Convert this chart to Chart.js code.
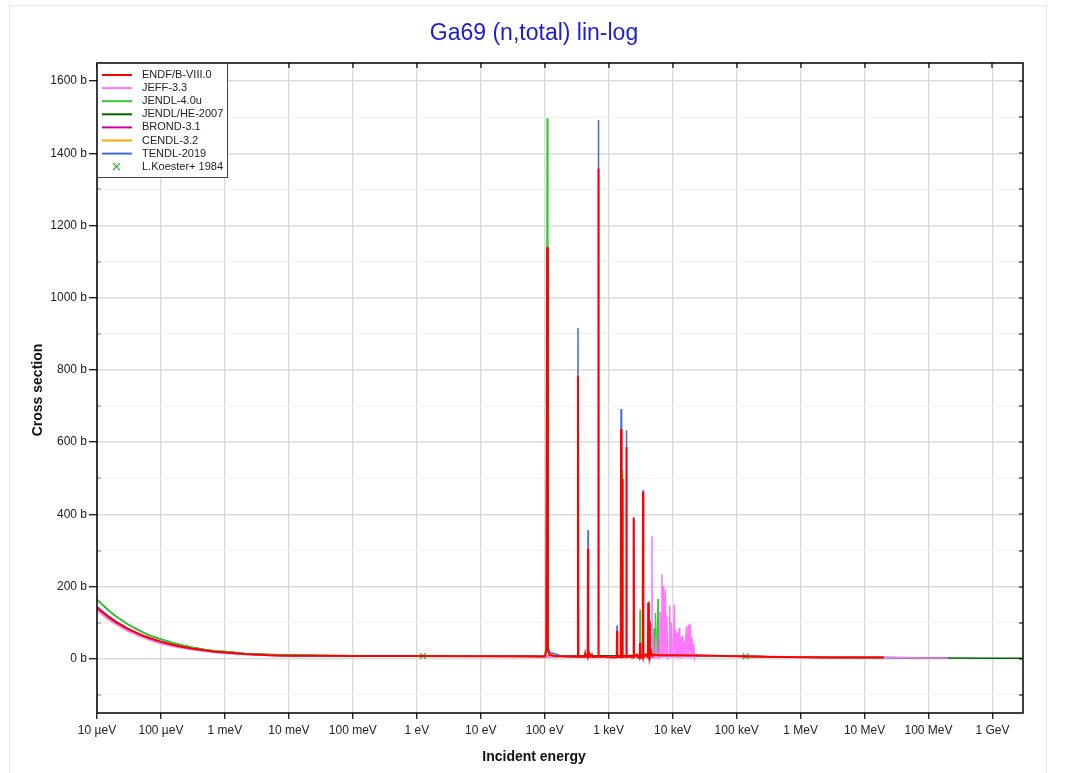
<!DOCTYPE html>
<html>
<head>
<meta charset="utf-8">
<title>Ga69 (n,total) lin-log</title>
<script src="https://cdn.jsdelivr.net/npm/chart.js@4.4.0/dist/chart.umd.min.js"></script>
<style>
  html, body { margin: 0; padding: 0; background: #fff; }
  #wrap { width: 1071px; height: 773px; }
</style>
</head>
<body>
<div id="wrap"><canvas id="xs" width="1071" height="773"></canvas></div>
<script>
// Ga69 total cross section, several evaluated libraries + one measurement
// energies in eV, cross sections in barns (read off the reference plot)

const xTickValues = [1e-5, 1e-4, 1e-3, 1e-2, 1e-1, 1, 10, 100, 1e3, 1e4, 1e5, 1e6, 1e7, 1e8, 1e9];
const xTickLabels = ['10 µeV', '100 µeV', '1 meV', '10 meV', '100 meV', '1 eV', '10 eV', '100 eV',
  '1 keV', '10 keV', '100 keV', '1 MeV', '10 MeV', '100 MeV', '1 GeV'];
const yTickValues = [-100, 0, 100, 200, 300, 400, 500, 600, 700, 800, 900, 1000, 1100, 1200, 1300, 1400, 1500, 1600];

const endfData = [
  [1e-5,141],[1.5e-5,116],[2e-5,101],[3e-5,83],[5e-5,65],[7e-5,55.5],[1e-4,47],[1.5e-4,39],[2e-4,34.3],
  [3e-4,28.6],[5e-4,23],[7e-4,19.9],[1e-3,17.3],[2e-3,13.2],[5e-3,10],[1e-2,8.8],[3e-2,8.2],[0.1,8],
  [1,7.8],[10,7.5],[60,7],[100,6.5],
  [106,20],[109,1140],[112,30],[118,12],[140,8],[250,6.5],
  [326,6],[331,784],[336,6],
  [420,6],[428,14],[436,6],[470,6],[475,304],[480,6],[500,13],[515,6],[545,12],[560,5],
  [684,6],[690,1358],[697,8],[760,5],[850,7],[900,5],[1250,4],
  [1335,5],[1350,77],[1365,5],
  [1540,5],[1560,636],[1590,10],[1620,5],[1640,498],[1660,5],[1750,8],
  [1870,5],[1890,586],[1910,5],[2150,8],[2250,4],
  [2430,5],[2460,389],[2490,5],[2750,12],[2850,4],
  [3060,3],[3090,44],[3120,3],[3300,10],[3400,4],[3440,462],[3480,4],[3800,12],
  [4100,5],[4150,155],[4250,8],[4320,4],[4370,101],[4420,5],[4600,20],[4800,8],[5200,12],[6000,10],
  [1e4,10],[3e4,9],[1e5,7],[3e5,5.5],[1e6,4.5],[3e6,4],[1e7,3.8],[2e7,3.5]
];

const jeffData = [
  [1e-5,133],[1.5e-5,109],[2e-5,95],[3e-5,77],[5e-5,60],[7e-5,50.5],[1e-4,42],[1.5e-4,35],[2e-4,30.5],
  [3e-4,25.5],[5e-4,20.5],[7e-4,17.5],[1e-3,15.5],[2e-3,12],[5e-3,9.5],[1e-2,8.5],[0.1,7.8],[1,7.6],
  [10,7.3],[100,6.3],[1000,5],[4000,5],
  [4120,5],[4150,156],[4180,4],[4700,4],[4750,340],[4800,3],[5300,2],[5500,60],[5700,3],
  [6200,3],[6400,130],[6600,5],[6800,235],[7000,10],[7200,202],[7400,8],[7700,191],[7900,6],[8100,120],[8400,3],
  [8800,10],[9000,147],[9250,4],[9500,100],[9800,2],[10300,30],[10600,149],[10900,5],[11100,80],[11400,3],
  [11700,72],[12100,2],[12600,86],[12900,6],[13200,60],[13600,2],[14000,63],[14400,3],[14900,50],[15500,4],
  [16400,90],[16700,8],[17100,70],[17400,5],[17800,95],[18300,20],[18900,97],[19500,6],[20000,60],[20600,4],
  [21300,41],[22000,3],[22500,10],
  [3e4,9],[1e5,7],[1e6,4.5],[1e7,3.8],[2e7,3.5],[5e7,2.8],[1e8,2.3],[2e8,2]
];

const jendlData = [
  [1e-5,164],[1.5e-5,135],[2e-5,117],[3e-5,96],[5e-5,75],[7e-5,63],[1e-4,54],[1.5e-4,44.5],[2e-4,39],
  [3e-4,32],[5e-4,25.5],[7e-4,22],[1e-3,20],[2e-3,15],[5e-3,12],[1e-2,10.5],[3e-2,9],[0.1,8.5],
  [1,8.2],[10,7.8],[100,6.5],
  [106,40],[109,1497],[112,40],[118,10],[300,6],
  [1620,5],[1640,522],[1660,5],
  [3060,5],[3090,136],[3120,5],
  [4170,5],[4200,160],[4230,5],[4700,5],[4750,53],[4800,5],
  [5000,5],[5100,85],[5200,10],[5300,70],[5350,8],[5400,127],[5500,10],[5600,60],[5700,8],[5900,166],[6000,8],
  [1e4,10],[1e5,7],[1e6,4.5],[1e7,3.8],[2e7,3.5]
];

const jendlHeData = [
  [1e-5,164],[1.5e-5,135],[2e-5,117],[3e-5,96],[5e-5,75],[7e-5,63],[1e-4,54],[1.5e-4,44.5],[2e-4,39],
  [3e-4,32],[5e-4,25.5],[7e-4,22],[1e-3,20],[2e-3,15],[5e-3,12],[1e-2,10.5],[3e-2,9],[0.1,8.5],
  [1,8.2],[10,7.8],[100,6.5],[1e4,10],[1e5,7],[1e6,4.5],[1e7,3.8],[2e7,3.5],[5e7,2.8],[2e8,2],
  [1e9,1.8],[3e9,1.8]
];

const brondData = [
  [1e-5,141],[1.5e-5,116],[2e-5,101],[3e-5,83],[5e-5,65],[7e-5,55.5],[1e-4,47],[1.5e-4,39],[2e-4,34.3],
  [3e-4,28.6],[5e-4,23],[7e-4,19.9],[1e-3,17.3],[2e-3,13.2],[5e-3,10],[1e-2,8.8],[3e-2,8.2],[0.1,8],
  [1,7.8],[10,7.5],[100,6.5],[1e4,10],[1e5,7],[1e6,4.5],[1e7,3.8],[2e7,3.5]
];

const cendlData = [
  [1e-5,141],[1.5e-5,116],[2e-5,101],[3e-5,83],[5e-5,65],[7e-5,55.5],[1e-4,47],[1.5e-4,39],[2e-4,34.3],
  [3e-4,28.6],[5e-4,23],[7e-4,19.9],[1e-3,17.3],[2e-3,13.2],[5e-3,10],[1e-2,8.8],[3e-2,8.2],[0.1,8],
  [1,7.8],[10,7.5],[100,6.5],[1e4,10],[1e5,7],[1e6,4.5],[1e7,3.8],[2e7,3.5]
];

const tendlData = [
  [1e-5,145],[1.5e-5,119],[2e-5,103.5],[3e-5,85],[5e-5,66.5],[7e-5,57],[1e-4,48],[1.5e-4,40],[2e-4,35],
  [3e-4,29],[5e-4,23.5],[7e-4,20],[1e-3,17.5],[2e-3,13.5],[5e-3,10],[1e-2,8.8],[0.1,8],[1,7.8],
  [10,7.5],[100,6.5],
  [106,20],[109,1130],[112,20],[200,6],
  [326,6],[331,916],[336,6],[470,6],[475,356],[480,6],[684,6],[690,1492],[697,6],[1300,5],
  [1335,5],[1350,92],[1365,5],[1540,5],[1560,692],[1590,5],[1870,5],[1890,633],[1910,5],
  [2430,5],[2460,393],[2490,5],[3400,5],[3440,467],[3480,5],[4320,5],[4370,108],[4420,5],[6000,9],
  [1e4,10],[1e5,7],[1e6,4.5],[1e7,3.8],[2e7,3.5],[5e7,2.8],[1e8,2.3],[2e8,2]
];

const koesterData = [[1.24, 8], [1.38e5, 7]];

const FONT = "'Liberation Sans', Arial, sans-serif";

function pts(arr) {
  return arr.map(p => ({ x: p[0], y: p[1] }));
}

function lineSet(label, data, color, width) {
  return {
    label, data: pts(data), borderColor: color, backgroundColor: color,
    borderWidth: width || 1.5, pointRadius: 0, tension: 0, fill: false
  };
}

const datasets = [
  lineSet('ENDF/B-VIII.0', endfData, '#ff0000', 2),
  lineSet('JEFF-3.3', jeffData, '#ff77ff'),
  lineSet('JENDL-4.0u', jendlData, '#33cc33'),
  lineSet('JENDL/HE-2007', jendlHeData, '#006600'),
  lineSet('BROND-3.1', brondData, '#cc0099'),
  lineSet('CENDL-3.2', cendlData, '#ffa500'),
  lineSet('TENDL-2019', tendlData, '#4169e1'),
  {
    label: 'L.Koester+ 1984', data: pts(koesterData), showLine: false,
    pointStyle: 'crossRot', pointRadius: 4, borderWidth: 1.2,
    borderColor: '#22aa22', backgroundColor: '#22aa22'
  }
];

// title, axis titles, frame, mirrored ticks and the boxed legend
const decorPlugin = {
  id: 'decor',
  beforeDraw(chart) {
    const ctx = chart.ctx;
    ctx.save();
    ctx.strokeStyle = '#e8e8e8';
    ctx.lineWidth = 1;
    ctx.strokeRect(9.5, 5.5, 1037, 800);
    ctx.restore();
  },
  afterDraw(chart) {
    const ctx = chart.ctx;
    const a = chart.chartArea;
    const xs = chart.scales.x, ys = chart.scales.y;
    ctx.save();

    // title
    ctx.fillStyle = '#1c1cd6';
    ctx.font = '23px ' + FONT;
    ctx.textAlign = 'center';
    ctx.textBaseline = 'middle';
    ctx.fillText('Ga69 (n,total) lin-log', 534, 34);

    // axis titles
    ctx.fillStyle = '#111';
    ctx.font = 'bold 14px ' + FONT;
    ctx.fillText('Incident energy', 534, 757);
    ctx.save();
    ctx.translate(38, 390);
    ctx.rotate(-Math.PI / 2);
    ctx.fillText('Cross section', 0, 0);
    ctx.restore();

    // inner ticks: top and right mirror, left minor
    ctx.lineWidth = 1.2;
    ctx.strokeStyle = '#000';
    ctx.beginPath();
    xTickValues.forEach(v => {
      const px = Math.round(xs.getPixelForValue(v));
      ctx.moveTo(px, a.top); ctx.lineTo(px, a.top + 5);
    });
    yTickValues.forEach(v => {
      const py = Math.round(ys.getPixelForValue(v));
      ctx.moveTo(a.right - 4, py); ctx.lineTo(a.right, py);
    });
    ctx.stroke();
    ctx.strokeStyle = '#888';
    ctx.beginPath();
    yTickValues.filter(v => v % 200 !== 0).forEach(v => {
      const py = Math.round(ys.getPixelForValue(v));
      ctx.moveTo(a.left, py); ctx.lineTo(a.left + 4, py);
    });
    ctx.stroke();

    // frame
    ctx.strokeStyle = '#000';
    ctx.lineWidth = 1.5;
    ctx.strokeRect(a.left, a.top, a.right - a.left, a.bottom - a.top);

    // legend
    const lx = a.left, ly = a.top, lw = 130, lh = 114, rowH = 13.1;
    ctx.fillStyle = '#fff';
    ctx.fillRect(lx, ly, lw, lh);
    ctx.strokeStyle = '#444';
    ctx.lineWidth = 1;
    ctx.strokeRect(lx + 0.5, ly + 0.5, lw, lh);
    ctx.font = '11px ' + FONT;
    ctx.textAlign = 'left';
    ctx.textBaseline = 'middle';
    chart.data.datasets.forEach((ds, i) => {
      const y = ly + 12 + i * rowH;
      if (ds.showLine === false) {
        ctx.strokeStyle = ds.borderColor;
        ctx.lineWidth = 1.2;
        ctx.beginPath();
        ctx.moveTo(113, y - 3.5); ctx.lineTo(120, y + 3.5);
        ctx.moveTo(120, y - 3.5); ctx.lineTo(113, y + 3.5);
        ctx.stroke();
      } else {
        ctx.strokeStyle = ds.borderColor;
        ctx.lineWidth = 2;
        ctx.beginPath();
        ctx.moveTo(102, y); ctx.lineTo(132, y);
        ctx.stroke();
      }
      ctx.fillStyle = '#222';
      ctx.fillText(ds.label, 142, y);
    });
    ctx.restore();
  }
};

Chart.defaults.font.family = FONT;

new Chart(document.getElementById('xs'), {
  type: 'line',
  data: { datasets },
  options: {
    responsive: false,
    animation: false,
    devicePixelRatio: 1,
    parsing: true,
    layout: { padding: { left: 20, right: 48, top: 63, bottom: 0 } },
    plugins: {
      legend: { display: false },
      tooltip: { enabled: false },
      title: { display: false }
    },
    scales: {
      x: {
        type: 'logarithmic',
        min: 1e-5,
        max: 3e9,
        position: 'bottom',
        afterBuildTicks: s => { s.ticks = xTickValues.map(v => ({ value: v })); },
        afterFit: s => { s.height = 60; },
        ticks: {
          autoSkip: false, maxRotation: 0, padding: 4,
          color: '#222', font: { size: 12 },
          callback: (v, i) => xTickLabels[i]
        },
        grid: { color: '#dcdcdc', lineWidth: 1.5, tickLength: 6, tickColor: '#000', tickWidth: 1.2 },
        border: { display: false }
      },
      y: {
        type: 'linear',
        min: -150,
        max: 1650,
        afterBuildTicks: s => { s.ticks = yTickValues.map(v => ({ value: v })); },
        afterFit: s => { s.width = 77; },
        ticks: {
          padding: 2, color: '#222', font: { size: 12 },
          callback: v => (v % 200 === 0 ? v + ' b' : '')
        },
        grid: {
          color: c => (c.tick && c.tick.value % 200 === 0 ? '#dcdcdc' : '#f1f1f1'),
          lineWidth: c => (c.tick && c.tick.value % 200 === 0 ? 1.5 : 1),
          tickLength: 8,
          tickColor: c => (c.tick && c.tick.value % 200 === 0 ? '#000' : 'rgba(0,0,0,0)'),
          tickWidth: 1.2
        },
        border: { display: false }
      }
    }
  },
  plugins: [decorPlugin]
});
</script>
</body>
</html>
